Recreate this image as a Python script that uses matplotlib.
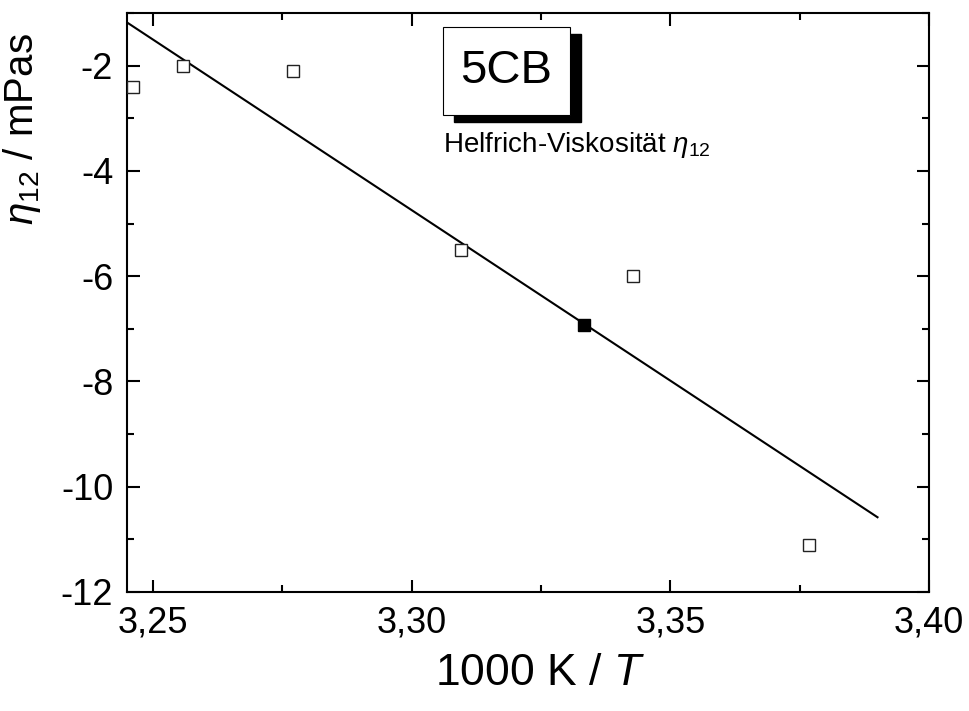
import matplotlib
matplotlib.use('Agg')
import matplotlib.pyplot as plt
import matplotlib.ticker as ticker
from matplotlib.patches import Rectangle

plt.rcParams['font.family'] = ['Liberation Sans', 'DejaVu Sans']
plt.rcParams['mathtext.fontset'] = 'custom'
plt.rcParams['mathtext.rm'] = 'Liberation Sans'
plt.rcParams['mathtext.it'] = 'Liberation Sans:italic'

# ── data ───────────────────────────────────────────────────────────────────
inv_T = [3.2462, 3.2558, 3.2771, 3.3096, 3.3428, 3.3768]
eta12 = [-2.40, -2.00, -2.10, -5.50, -6.00, -11.10]

inv_T_fill = [3.3333]
eta12_fill = [-6.93]

fit_x = [3.245, 3.390]
fit_y = [-1.18, -10.58]

fig = plt.figure(figsize=(9.7, 7.11), dpi=100)
ax = fig.add_axes([0.131, 0.1674, 0.827, 0.8143])

ax.plot(fit_x, fit_y, '-', color='black', linewidth=1.5, zorder=2)
ax.plot(inv_T, eta12, 's', markersize=9, markerfacecolor='white',
        markeredgecolor='#222222', markeredgewidth=1.0, linestyle='none', zorder=3)
ax.plot(inv_T_fill, eta12_fill, 's', markersize=9, markerfacecolor='black',
        markeredgecolor='black', markeredgewidth=1.0, linestyle='none', zorder=3)

ax.set_xlim(3.245, 3.40)
ax.set_ylim(-12, -1)
ax.xaxis.set_major_locator(ticker.MultipleLocator(0.05))
ax.xaxis.set_minor_locator(ticker.MultipleLocator(0.025))
ax.yaxis.set_major_locator(ticker.MultipleLocator(2))
ax.yaxis.set_minor_locator(ticker.MultipleLocator(1))
ax.xaxis.set_major_formatter(ticker.FuncFormatter(lambda v, p: f'{v:.2f}'.replace('.', ',')))
ax.yaxis.set_major_formatter(ticker.FuncFormatter(lambda v, p: f'{v:.0f}'))

ax.tick_params(which='both', direction='in', top=True, right=True, width=1.5)
ax.tick_params(which='major', length=9, labelsize=26, pad=10)
ax.tick_params(which='minor', length=5)
for s in ax.spines.values():
    s.set_linewidth(1.5)

ax.set_xlabel('1000 K / $\\mathit{T}$', fontsize=32)
ax.xaxis.set_label_coords(0.515, -0.105)
ax.set_ylabel('$\\mathit{\\eta}_{12}$ / mPas', fontsize=29)
ax.yaxis.set_label_coords(-0.105, 0.80)

# 5CB box with drop shadow
bx0, by0, bw, bh = 0.394, 0.824, 0.158, 0.152
ax.add_patch(Rectangle((bx0 + 0.0137, by0 - 0.013), bw, bh, transform=ax.transAxes,
                       facecolor='black', edgecolor='black', zorder=4, clip_on=False))
ax.add_patch(Rectangle((bx0, by0), bw, bh, transform=ax.transAxes,
                       facecolor='white', edgecolor='black', linewidth=0.8, zorder=5,
                       clip_on=False))
ax.text(bx0 + bw / 2, by0 + bh / 2, '5CB', transform=ax.transAxes, fontsize=34,
        ha='center', va='center', zorder=6)

ax.text(0.394, 0.76, 'Helfrich-Viskosität $\\mathit{\\eta}_{12}$', transform=ax.transAxes,
        fontsize=20, ha='left', va='baseline')

plt.savefig('out.png', dpi=100)
